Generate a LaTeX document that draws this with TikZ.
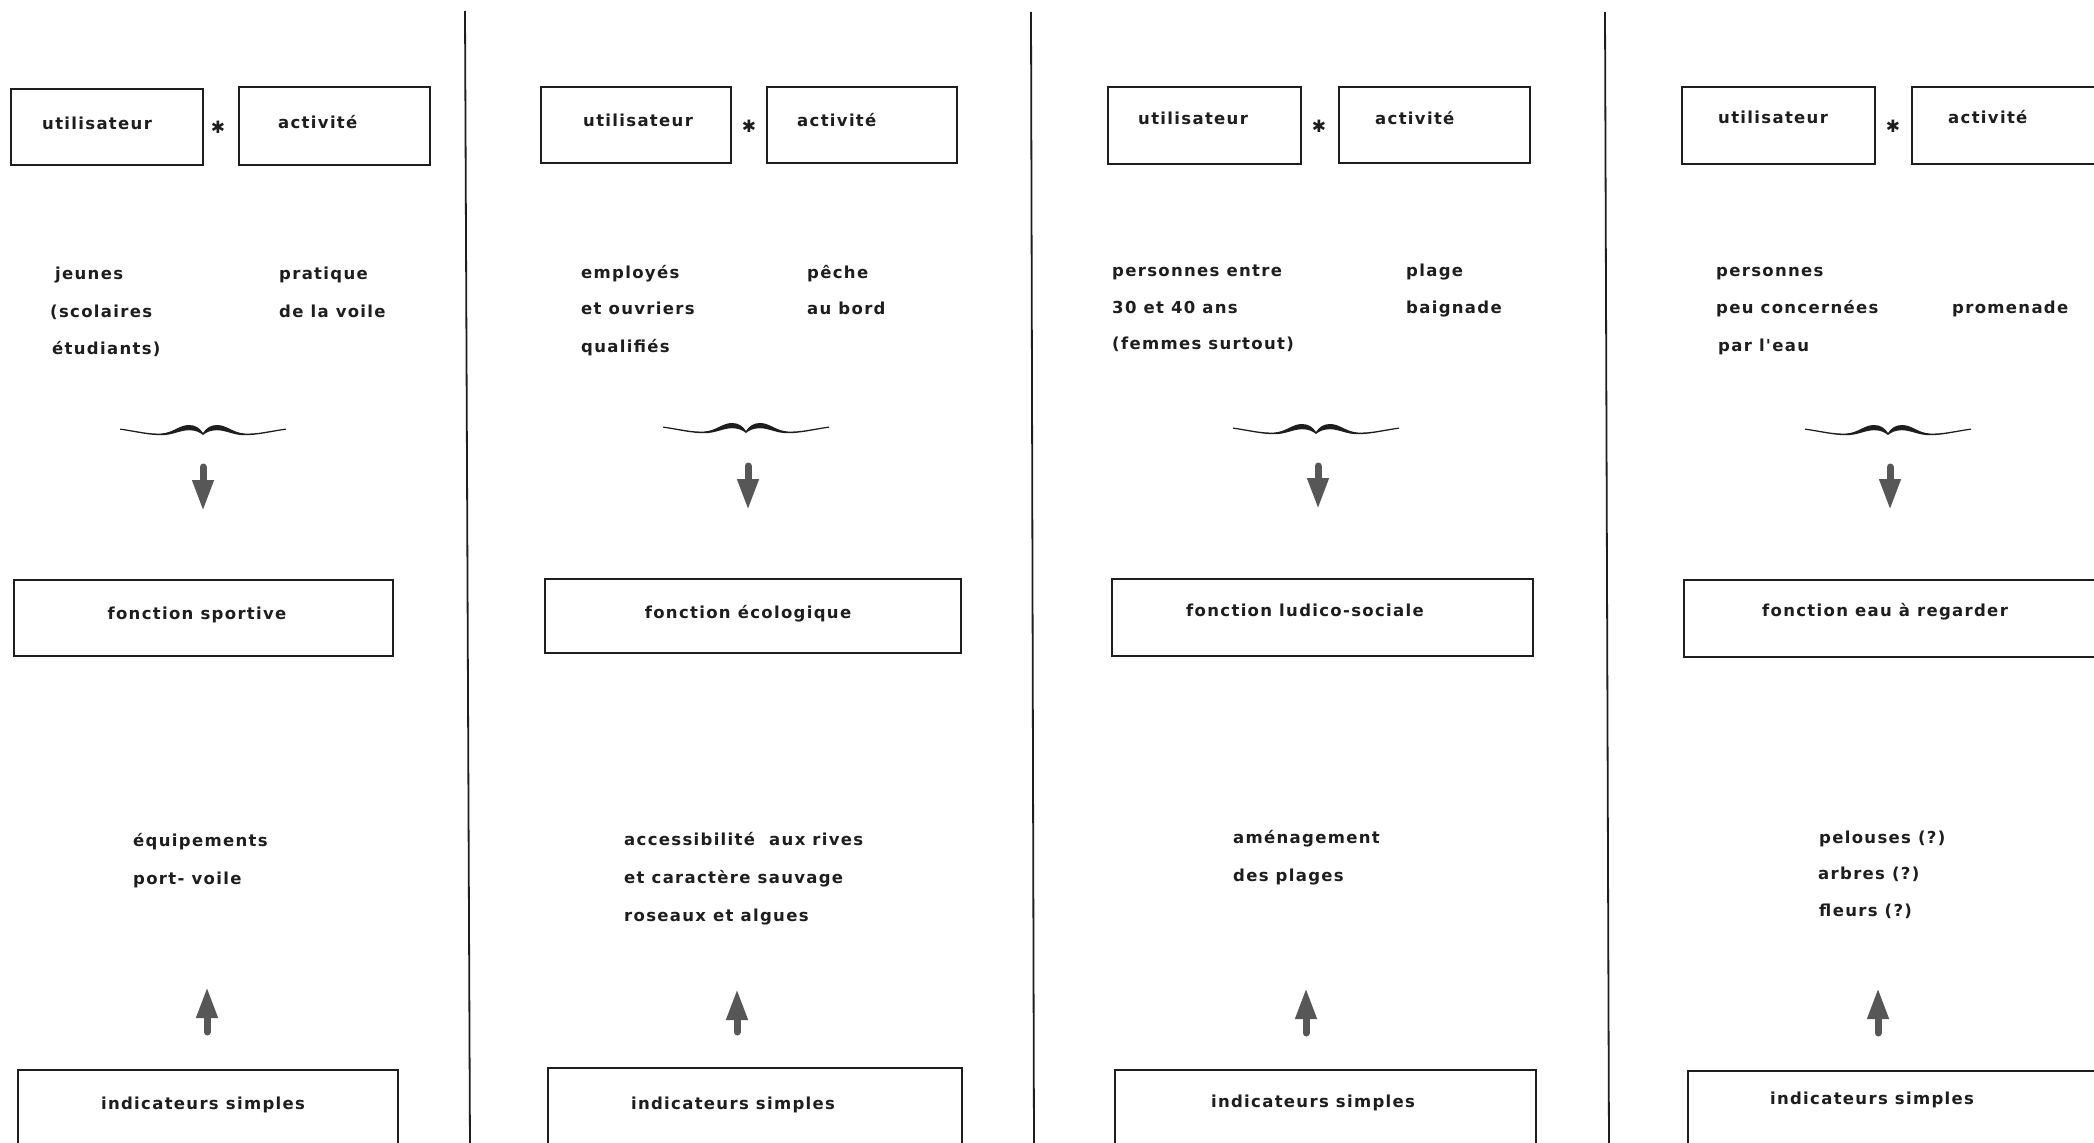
\documentclass[tikz,border=0pt]{standalone}
\usepackage{fontspec}
\newfontfamily\lett{DejaVu Sans}[LetterSpace=8]
\usetikzlibrary{arrows.meta}
\definecolor{ink}{HTML}{1E1E1E}
\definecolor{arrowgray}{HTML}{575757}
\tikzset{
  frame/.style={draw=ink, line width=1.8pt, rectangle, inner sep=0pt},
  txt/.style={font=\lett\bfseries\fontsize{16.5}{20}\selectfont, text=ink, inner sep=0pt, anchor=base west},
  txtc/.style={txt, anchor=base},
  star/.style={font=\lett\bfseries\fontsize{17}{18}\selectfont, text=ink, inner sep=0pt},
  sepline/.style={draw=ink, line width=1.8pt},
  fat/.style={draw=arrowgray, line width=7pt, line cap=round, -{Triangle[width=20pt,length=31pt]}},
  brace/.pic={
    \fill[ink] (-83,-4.5) .. controls (-65,-2) and (-55,1) .. (-42,0.5)
      .. controls (-30,0) and (-24,-8) .. (-14,-8)
      .. controls (-7,-8) and (-3,-4.5) .. (0,0)
      .. controls (3,-4.5) and (7,-8) .. (14,-8)
      .. controls (24,-8) and (30,0) .. (42,0.5)
      .. controls (55,1) and (65,-2) .. (83,-4.5)
      -- (83,-3.3)
      .. controls (65,-0.6) and (55,2.2) .. (42,2.2)
      .. controls (30,2.2) and (24,-2.5) .. (14,-2.8)
      .. controls (7,-2.8) and (3,-0.5) .. (0,2)
      .. controls (-3,-0.5) and (-7,-2.8) .. (-14,-2.8)
      .. controls (-24,-2.5) and (-30,2.2) .. (-42,2.2)
      .. controls (-55,2.2) and (-65,-0.6) .. (-83,-3.3) -- cycle;
  }
}
\begin{document}
\begin{tikzpicture}[x=1pt,y=-1pt]
\useasboundingbox[fill=white] (0,0) rectangle (2094,1143);
\clip (0,0) rectangle (2094,1143);

% separators
\coordinate (s1t) at (465,11);  \coordinate (s1b) at (470,1150);
\coordinate (s2t) at (1031,12); \coordinate (s2b) at (1034,1150);
\coordinate (s3t) at (1605,12); \coordinate (s3b) at (1609,1150);
\draw[sepline] (s1t) -- (s1b);
\draw[sepline] (s2t) -- (s2b);
\draw[sepline] (s3t) -- (s3b);

% ---------- top boxes ----------
\node[frame, minimum width=192pt, minimum height=76pt] (u1) at (107,127) {};
\node[frame, minimum width=191pt, minimum height=78pt] (a1) at (334.5,126) {};
\node[frame, minimum width=190pt, minimum height=76pt] (u2) at (636,125) {};
\node[frame, minimum width=190pt, minimum height=76pt] (a2) at (862,125) {};
\node[frame, minimum width=193pt, minimum height=77pt] (u3) at (1204.5,125.5) {};
\node[frame, minimum width=191pt, minimum height=76pt] (a3) at (1434.5,125) {};
\node[frame, minimum width=193pt, minimum height=77pt] (u4) at (1778.5,125.5) {};
\node[frame, minimum width=191pt, minimum height=77pt] (a4) at (2007.5,125.5) {};

\node[txt] (tu1) at (42,129) {utilisateur};
\node[txt] (ta1) at (278,128) {activité};
\node[txt] (tu2) at (583,126) {utilisateur};
\node[txt] (ta2) at (797,126) {activité};
\node[txt] (tu3) at (1138,124) {utilisateur};
\node[txt] (ta3) at (1375,124) {activité};
\node[txt] (tu4) at (1718,123) {utilisateur};
\node[txt] (ta4) at (1948,123) {activité};

\node[star] (st1) at (218,127) {✱};
\node[star] (st2) at (749,126) {✱};
\node[star] (st3) at (1319,126) {✱};
\node[star] (st4) at (1893,126) {✱};

% ---------- middle texts ----------
\node[txt] (m1a) at (55,279) {jeunes};
\node[txt] (m1b) at (50,317) {(scolaires};
\node[txt] (m1c) at (52,354) {étudiants)};
\node[txt] (m1d) at (279,279) {pratique};
\node[txt] (m1e) at (279,317) {de la voile};

\node[txt] (m2a) at (581,278) {employés};
\node[txt] (m2b) at (581,314) {et ouvriers};
\node[txt] (m2c) at (581,352) {qualifiés};
\node[txt] (m2d) at (807,278) {pêche};
\node[txt] (m2e) at (807,314) {au bord};

\node[txt] (m3a) at (1112,276) {personnes entre};
\node[txt] (m3b) at (1112,313) {30 et 40 ans};
\node[txt] (m3c) at (1112,349) {(femmes surtout)};
\node[txt] (m3d) at (1406,276) {plage};
\node[txt] (m3e) at (1406,313) {baignade};

\node[txt] (m4a) at (1716,276) {personnes};
\node[txt] (m4b) at (1716,313) {peu concernées};
\node[txt] (m4c) at (1718,351) {par l'eau};
\node[txt] (m4d) at (1952,313) {promenade};

% ---------- braces ----------
\pic (b1) at (203,433) {brace};
\pic (b2) at (746,431) {brace};
\pic (b3) at (1316,432) {brace};
\pic (b4) at (1888,433) {brace};

% ---------- down arrows ----------
\coordinate (d1a) at (203,467);  \coordinate (d1b) at (203,511);
\coordinate (d2a) at (748,466);  \coordinate (d2b) at (748,510);
\coordinate (d3a) at (1318,466); \coordinate (d3b) at (1318,509);
\coordinate (d4a) at (1890,467); \coordinate (d4b) at (1890,510);
\draw[fat] (d1a) -- (d1b);
\draw[fat] (d2a) -- (d2b);
\draw[fat] (d3a) -- (d3b);
\draw[fat] (d4a) -- (d4b);

% ---------- fonction boxes ----------
\node[frame, minimum width=379pt, minimum height=76pt] (f1) at (203.5,618) {};
\node[frame, minimum width=416pt, minimum height=74pt] (f2) at (753,616) {};
\node[frame, minimum width=421pt, minimum height=77pt] (f3) at (1322.5,617.5) {};
\node[frame, minimum width=420pt, minimum height=77pt] (f4) at (1894,618.5) {};
\node[txtc] (tf1) at (197,619) {fonction sportive};
\node[txtc] (tf2) at (748,618) {fonction écologique};
\node[txtc] (tf3) at (1305,616) {fonction ludico-sociale};
\node[txtc] (tf4) at (1885,616) {fonction eau à regarder};

% ---------- lower texts ----------
\node[txt] (l1a) at (133,846) {équipements};
\node[txt] (l1b) at (133,884) {port- voile};
\node[txt] (l2a) at (624,845) {accessibilité\ \ aux rives};
\node[txt] (l2b) at (624,883) {et caractère sauvage};
\node[txt] (l2c) at (624,921) {roseaux et algues};
\node[txt] (l3a) at (1233,843) {aménagement};
\node[txt] (l3b) at (1233,881) {des plages};
\node[txt] (l4a) at (1819,843) {pelouses (?)};
\node[txt] (l4b) at (1818,879) {arbres (?)};
\node[txt] (l4c) at (1819,916) {fleurs (?)};

% ---------- up arrows ----------
\coordinate (p1a) at (207,1032);  \coordinate (p1b) at (207,987);
\coordinate (p2a) at (737,1032);  \coordinate (p2b) at (737,989);
\coordinate (p3a) at (1306,1033); \coordinate (p3b) at (1306,988);
\coordinate (p4a) at (1878,1033); \coordinate (p4b) at (1878,988);
\draw[fat] (p1a) -- (p1b);
\draw[fat] (p2a) -- (p2b);
\draw[fat] (p3a) -- (p3b);
\draw[fat] (p4a) -- (p4b);

% ---------- indicateurs boxes ----------
\node[frame, minimum width=380pt, minimum height=80pt] (i1) at (208,1110) {};
\node[frame, minimum width=414pt, minimum height=80pt] (i2) at (755,1108) {};
\node[frame, minimum width=421pt, minimum height=80pt] (i3) at (1325.5,1110) {};
\node[frame, minimum width=420pt, minimum height=80pt] (i4) at (1898,1111) {};
\node[txtc] (ti1) at (203,1109) {indicateurs simples};
\node[txtc] (ti2) at (733,1109) {indicateurs simples};
\node[txtc] (ti3) at (1313,1107) {indicateurs simples};
\node[txtc] (ti4) at (1872,1104) {indicateurs simples};
\end{tikzpicture}
\end{document}
